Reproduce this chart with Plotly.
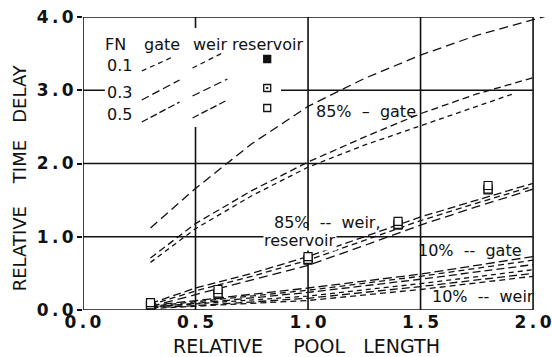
import plotly.graph_objects as go

# ---------------- data ----------------
fn_values = ["0.1", "0.3", "0.5"]

# 85% -- gate
x_g85_a = [0.3, 0.5, 0.75, 1.0, 1.25, 1.5, 1.75, 2.0, 2.08]
g85_fn01 = [1.12, 1.66, 2.27, 2.78, 3.16, 3.48, 3.75, 3.97, 4.03]
x_g85_b = [0.3, 0.5, 0.75, 1.0, 1.25, 1.5, 1.75, 2.0]
g85_fn03 = [0.71, 1.18, 1.63, 2.02, 2.36, 2.68, 2.95, 3.17]
x_g85_c = [0.3, 0.5, 0.75, 1.0, 1.25, 1.5, 1.75, 1.92]
g85_fn05 = [0.65, 1.11, 1.56, 1.95, 2.25, 2.52, 2.78, 2.96]

# 85% -- weir
x_w85 = [0.3, 0.5, 0.75, 1.0, 1.25, 1.5, 1.75, 2.0]
w85_fn01 = [0.09, 0.30, 0.50, 0.73, 1.00, 1.27, 1.50, 1.73]
w85_fn03 = [0.07, 0.26, 0.46, 0.68, 0.95, 1.22, 1.46, 1.69]
w85_fn05 = [0.05, 0.21, 0.40, 0.61, 0.88, 1.16, 1.41, 1.65]

# 85% -- reservoir (markers)
x_r85 = [0.3, 0.6, 1.0, 1.4, 1.8]
r85_fn01 = [0.06, 0.21, 0.68, 1.16, 1.64]
r85_fn03 = [0.07, 0.23, 0.69, 1.17, 1.65]
r85_fn05 = [0.10, 0.28, 0.73, 1.21, 1.70]

# 10% -- gate / weir
x_10 = [0.3, 0.5, 1.0, 1.5, 2.0]
g10_fn01 = [0.06, 0.13, 0.30, 0.49, 0.73]
g10_fn03 = [0.05, 0.11, 0.27, 0.46, 0.68]
g10_fn05 = [0.04, 0.09, 0.24, 0.42, 0.62]
w10_fn01 = [0.04, 0.08, 0.19, 0.36, 0.55]
w10_fn03 = [0.03, 0.06, 0.16, 0.32, 0.50]
w10_fn05 = [0.02, 0.05, 0.13, 0.28, 0.46]

x_ticks = [0.0, 0.5, 1.0, 1.5, 2.0]
x_tick_labels = ["0.0", "0.5", "1.0", "1.5", "2.0"]
y_ticks = [0.0, 1.0, 2.0, 3.0, 4.0]
y_tick_labels = ["0.0", "1.0", "2.0", "3.0", "4.0"]

# ---------------- styling ----------------
INK = "#111111"
dash_for = {"0.1": "5px,4px", "0.3": "8px,4px", "0.5": "7px,3px"}
FONT = "DejaVu Sans"

def spaced(s):
    return "\u2009".join(list(s))

fig = go.Figure()

def add_line(x, y, dash):
    fig.add_trace(go.Scatter(x=x, y=y, mode="lines", showlegend=False,
                             line=dict(color=INK, width=1.3, dash=dash),
                             hoverinfo="skip"))

for xs, ys, dash in [(x_g85_a, g85_fn01, "9px,5px"), (x_g85_b, g85_fn03, "7px,4px"), (x_g85_c, g85_fn05, "5px,4px"),
                     (x_w85, w85_fn01, "8px,4px"), (x_w85, w85_fn03, "6px,4px"), (x_w85, w85_fn05, "9px,5px"),
                     (x_10, g10_fn01, "9px,4px"), (x_10, g10_fn03, "6px,4px"), (x_10, g10_fn05, "8px,4px"),
                     (x_10, w10_fn01, "5px,4px"), (x_10, w10_fn03, "8px,4px"), (x_10, w10_fn05, "6px,4px")]:
    add_line(xs, ys, dash)

# reservoir markers: filled, dotted, open (open drawn on top with white fill)
fig.add_trace(go.Scatter(x=x_r85, y=r85_fn01, mode="markers", showlegend=False, hoverinfo="skip",
                         marker=dict(symbol="square", size=8, color=INK, line=dict(color=INK, width=1.2))))
fig.add_trace(go.Scatter(x=x_r85, y=r85_fn03, mode="markers", showlegend=False, hoverinfo="skip",
                         marker=dict(symbol="square-dot", size=8, color="white", line=dict(color=INK, width=1.2))))
fig.add_trace(go.Scatter(x=x_r85, y=r85_fn05, mode="markers", showlegend=False, hoverinfo="skip",
                         marker=dict(symbol="square", size=8, color="white", line=dict(color=INK, width=1.2))))

# ---------------- layout geometry ----------------
W, H = 552, 357
L, T, B = 83, 17, 47
PW, PH = W - L, H - T - B

def pp(x, y):
    """pixel -> paper coordinates of the plot area"""
    return (x - L) / PW, (H - B - y) / PH

shapes = []
for gx in [0.5, 1.0, 1.5]:
    shapes.append(dict(type="line", xref="x", yref="y", x0=gx, x1=gx, y0=0, y1=4,
                       line=dict(color=INK, width=1.6), layer="below"))
for gy in [1.0, 2.0, 3.0]:
    shapes.append(dict(type="line", xref="x", yref="y", x0=0, x1=2, y0=gy, y1=gy,
                       line=dict(color=INK, width=1.6), layer="below"))
# white area behind the key
shapes.append(dict(type="rect", xref="x", yref="y", x0=0.097, x1=0.88, y0=2.5, y1=3.85,
                   fillcolor="white", line=dict(width=0), layer="below"))
shapes.append(dict(type="rect", xref="x", yref="y", x0=0, x1=2, y0=0, y1=4,
                   line=dict(color=INK, width=1.6), layer="below"))

# key samples
key_lines = {
    "gate": {"0.1": ((142, 71), (173, 57)), "0.3": ((142, 100), (180, 80)), "0.5": ((142, 122), (180, 102))},
    "weir": {"0.1": ((193, 68), (225, 52)), "0.3": ((193, 96), (228, 79)), "0.5": ((193, 118), (228, 100))},
}
for col in key_lines.values():
    for fn, ((xa, ya), (xb, yb)) in col.items():
        x0, y0 = pp(xa, ya)
        x1, y1 = pp(xb, yb)
        shapes.append(dict(type="line", xref="paper", yref="paper", x0=x0, y0=y0, x1=x1, y1=y1,
                           line=dict(color=INK, width=1.3, dash=dash_for[fn])))
key_marks = {"0.1": 59, "0.3": 88, "0.5": 108}
for fn, yy in key_marks.items():
    x0, y0 = pp(264.5, yy + 3.5)
    x1, y1 = pp(271.5, yy - 3.5)
    filled = fn == "0.1"
    shapes.append(dict(type="rect", xref="paper", yref="paper", x0=x0, y0=y0, x1=x1, y1=y1,
                       fillcolor=INK if filled else "white", line=dict(color=INK, width=1.3)))
    if fn == "0.3":
        x0, y0 = pp(267, yy + 1)
        x1, y1 = pp(269, yy - 1)
        shapes.append(dict(type="rect", xref="paper", yref="paper", x0=x0, y0=y0, x1=x1, y1=y1,
                           fillcolor=INK, line=dict(width=0)))

annotations = []

def text(t, x, y, size=16, xanchor="left", bg=None, angle=0):
    px_, py_ = pp(x, y)
    a = dict(text=t, x=px_, y=py_, xref="paper", yref="paper", showarrow=False,
             xanchor=xanchor, yanchor="middle", font=dict(family=FONT, size=size, color=INK),
             textangle=angle, borderpad=0)
    if bg:
        a["bgcolor"] = bg
    annotations.append(a)

NB = "\u00a0"
text("FN", 104, 44)
text("gate", 143, 44)
text("weir", 192, 44)
text("reservoir", 232, 44)
for fn, yy in zip(fn_values, [65, 92, 114]):
    text(fn, 106, yy)

text("85%" + NB * 2 + "–" + NB * 2 + "gate", 316, 111)
text("85%" + NB * 2 + "--" + NB * 2 + "weir,", 274, 222)
text("reservoir", 264, 240, bg="white")
text("10%" + NB * 2 + "--" + NB * 2 + "gate", 418, 250)
text("10%" + NB * 2 + "--" + NB * 2 + "weir", 432, 296)

text("RELATIVE" + NB * 5 + "POOL" + NB * 3 + "LENGTH", 307, 346, size=19, xanchor="center")
text("RELATIVE" + NB * 4 + "TIME" + NB * 3 + "DELAY", 19, 178, size=18, xanchor="center", angle=-90)

fig.update_layout(
    width=W, height=H,
    margin=dict(l=L, r=0, t=T, b=B),
    paper_bgcolor="white", plot_bgcolor="white",
    shapes=shapes, annotations=annotations,
    xaxis=dict(range=[0, PW / 226.0], showgrid=False, zeroline=False, showline=False,
               tickvals=x_ticks, ticktext=[spaced(s) for s in x_tick_labels], ticks="",
               ticklabeloverflow="allow",
               tickfont=dict(family=FONT, size=17, color=INK, weight="bold")),
    yaxis=dict(range=[0, 4.0], showgrid=False, zeroline=False, showline=False,
               tickvals=y_ticks, ticktext=[spaced(s) for s in y_tick_labels],
               ticks="outside", ticklen=5, tickcolor=INK, tickwidth=1.5,
               ticklabeloverflow="allow",
               tickfont=dict(family=FONT, size=17, color=INK, weight="bold")),
)

fig.write_html("out.html")
